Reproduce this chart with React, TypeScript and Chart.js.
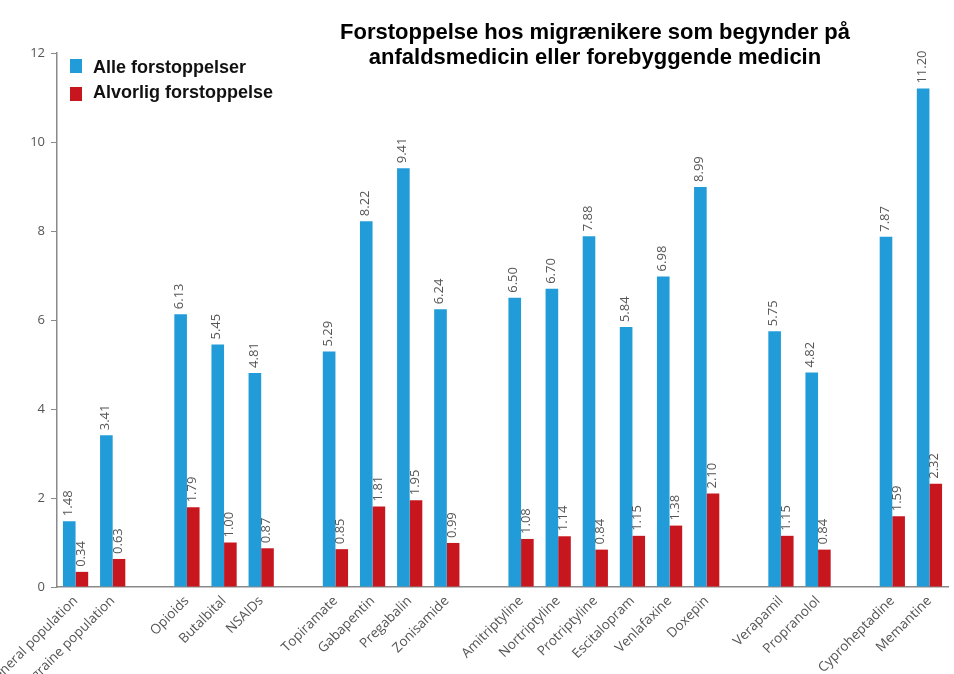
import React, { useEffect, useRef } from 'react';
import Chart from 'chart.js/auto';

const categories = [
  'General population', 'Migraine population', '',
  'Opioids', 'Butalbital', 'NSAIDs', '',
  'Topiramate', 'Gabapentin', 'Pregabalin', 'Zonisamide', '',
  'Amitriptyline', 'Nortriptyline', 'Protriptyline', 'Escitalopram', 'Venlafaxine', 'Doxepin', '',
  'Verapamil', 'Propranolol', '',
  'Cyproheptadine', 'Memantine',
];
const allConstipation = [
  1.48, 3.41, null,
  6.13, 5.45, 4.81, null,
  5.29, 8.22, 9.41, 6.24, null,
  6.50, 6.70, 7.88, 5.84, 6.98, 8.99, null,
  5.75, 4.82, null,
  7.87, 11.20,
];
const severeConstipation = [
  0.34, 0.63, null,
  1.79, 1.00, 0.87, null,
  0.85, 1.81, 1.95, 0.99, null,
  1.08, 1.14, 0.84, 1.15, 1.38, 2.10, null,
  1.15, 0.84, null,
  1.59, 2.32,
];
const seriesNames = ['Alle forstoppelser', 'Alvorlig forstoppelse'];
const seriesColors = ['#229cd8', '#c8161f'];
const yTicks = [0, 2, 4, 6, 8, 10, 12];
const titleLines = [
  'Forstoppelse hos migrænikere som begynder på',
  'anfaldsmedicin eller forebyggende medicin',
];

const valueLabels = {
  id: 'valueLabels',
  afterDatasetsDraw(chart: any) {
    const ctx = chart.ctx;
    ctx.save();
    ctx.font = '13px "Open Sans"';
    ctx.fillStyle = '#555555';
    chart.data.datasets.forEach((ds: any, i: number) => {
      const meta = chart.getDatasetMeta(i);
      meta.data.forEach((el: any, j: number) => {
        const v = ds.data[j];
        if (v == null) return;
        ctx.save();
        ctx.translate(el.x - 1, el.y - 5);
        ctx.rotate(-Math.PI / 2);
        ctx.textAlign = 'left';
        ctx.textBaseline = 'middle';
        ctx.fillText(Number(v).toFixed(2), 0, 0);
        ctx.restore();
      });
    });
    ctx.restore();
  },
};

const titleAndLegend = {
  id: 'titleAndLegend',
  afterDraw(chart: any) {
    const ctx = chart.ctx;
    ctx.save();
    ctx.fillStyle = '#000000';
    ctx.font = 'bold 22px "Liberation Sans"';
    ctx.textAlign = 'center';
    ctx.textBaseline = 'middle';
    titleLines.forEach((line, i) => ctx.fillText(line, 595, 33 + i * 25));

    const ca = chart.chartArea;
    ctx.font = 'bold 18px "Liberation Sans"';
    ctx.textAlign = 'left';
    chart.data.datasets.forEach((ds: any, i: number) => {
      const y = 59 + i * 28;
      ctx.fillStyle = ds.backgroundColor;
      ctx.fillRect(ca.left + 13, y, 12, 14);
      ctx.fillStyle = '#111111';
      ctx.fillText(ds.label, ca.left + 36, y + 9 - i * 3);
    });
    ctx.restore();
  },
};

export default function App() {
  const ref = useRef<HTMLCanvasElement>(null);
  useEffect(() => {
    const chart = new Chart(ref.current!, {
      type: 'bar',
      data: {
        labels: categories,
        datasets: [
          { label: seriesNames[0], data: allConstipation, backgroundColor: seriesColors[0], categoryPercentage: 0.68, barPercentage: 1.0 },
          { label: seriesNames[1], data: severeConstipation, backgroundColor: seriesColors[1], categoryPercentage: 0.68, barPercentage: 1.0 },
        ] as any,
      },
      options: {
        animation: false,
        responsive: false,
        layout: { padding: { top: 53, right: 6, left: 0, bottom: 0 } },
        plugins: { legend: { display: false }, title: { display: false }, tooltip: { enabled: false } },
        scales: {
          x: {
            grid: { display: false, drawTicks: false },
            border: { display: true, color: '#8a8a8a', width: 1.5 },
            ticks: {
              autoSkip: false,
              minRotation: 45,
              maxRotation: 45,
              padding: 6,
              color: '#555555',
              font: { family: '"Open Sans"', size: 13.5 },
            },
            afterFit(scale: any) {
              scale.height = 87;
              scale.paddingLeft = 0;
              scale.paddingRight = 0;
            },
          },
          y: {
            min: 0,
            max: 12,
            afterBuildTicks(scale: any) {
              scale.ticks = yTicks.map((v) => ({ value: v }));
            },
            grid: { display: true, drawOnChartArea: false, drawTicks: true, tickLength: 6, color: '#8a8a8a' },
            border: { display: true, color: '#8a8a8a', width: 1.5 },
            ticks: {
              padding: 6,
              color: '#555555',
              font: { family: '"Open Sans"', size: 13 },
            },
            afterFit(scale: any) {
              scale.width = 57;
              scale.paddingTop = 0;
              scale.paddingBottom = 0;
            },
          },
        },
      },
      plugins: [valueLabels, titleAndLegend],
    });
    return () => chart.destroy();
  }, []);
  return (
    <div style={{ position: 'absolute', left: 0, top: 0, width: 954, height: 674, background: '#ffffff' }}>
      <canvas ref={ref} width={954} height={674} style={{ display: 'block' }} />
    </div>
  );
}
